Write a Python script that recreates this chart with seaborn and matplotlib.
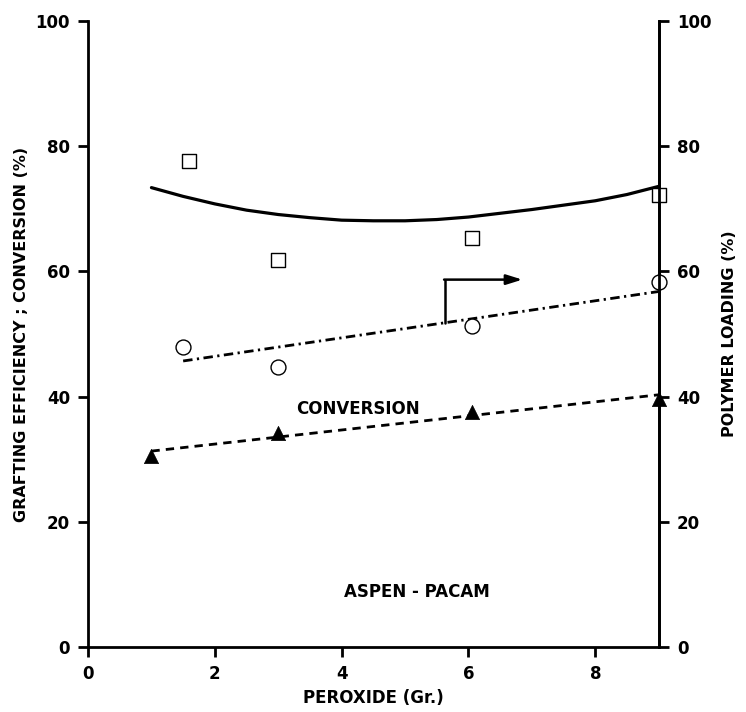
import matplotlib
matplotlib.use("Agg")
import matplotlib.pyplot as plt
import seaborn as sns
import pandas as pd

# ---- data ----
sq_x = [1.6, 3.0, 6.05, 9.0]          # grafting efficiency (open squares)
sq_y = [77.6, 61.9, 65.4, 72.2]
ci_x = [1.5, 3.0, 6.05, 9.0]          # polymer loading (open circles)
ci_y = [47.9, 44.7, 51.3, 58.3]
tr_x = [1.0, 3.0, 6.05, 9.0]          # conversion (filled triangles)
tr_y = [30.5, 34.2, 37.6, 39.7]

fit_ge_x = [1.0, 1.5, 2.0, 2.5, 3.0, 3.5, 4.0, 4.5, 5.0, 5.5, 6.0, 6.5, 7.0, 7.5, 8.0, 8.5, 9.0]
fit_ge_y = [73.4, 72.0, 70.8, 69.8, 69.1, 68.6, 68.2, 68.1, 68.1, 68.3, 68.7, 69.3, 69.9, 70.6, 71.3, 72.3, 73.6]
fit_pl_x = [1.5, 9.0]
fit_pl_y = [45.7, 56.8]
fit_cv_x = [1.0, 9.0]
fit_cv_y = [31.3, 40.3]

x_ticks = [0, 2, 4, 6, 8]
y_ticks = [0, 20, 40, 60, 80, 100]

# arrow pointing to right axis
arrow_x0, arrow_y0 = 5.63, 51.8
arrow_y1 = 58.7
arrow_x1 = 6.85

sns.set_theme(style="ticks")
plt.rcParams['font.family'] = ['DejaVu Sans']
plt.rcParams['font.weight'] = 'bold'
plt.rcParams['text.color'] = 'black'
plt.rcParams['axes.labelcolor'] = 'black'
plt.rcParams['xtick.color'] = 'black'
plt.rcParams['ytick.color'] = 'black'

fig = plt.figure(figsize=(7.46, 7.12), dpi=100)
ax = fig.add_axes([0.118, 0.0913, 0.765, 0.879])

df_sq = pd.DataFrame({'x': sq_x, 'y': sq_y})
df_ci = pd.DataFrame({'x': ci_x, 'y': ci_y})
df_tr = pd.DataFrame({'x': tr_x, 'y': tr_y})

sns.lineplot(x=fit_ge_x, y=fit_ge_y, ax=ax, color='black', lw=2.3, sort=False)
sns.lineplot(x=fit_pl_x, y=fit_pl_y, ax=ax, color='black', lw=2.0)
ax.lines[-1].set_linestyle((0, (3.4, 1.6, 0.8, 1.6)))
sns.lineplot(x=fit_cv_x, y=fit_cv_y, ax=ax, color='black', lw=2.0)
ax.lines[-1].set_linestyle((0, (3, 2.2)))

sns.scatterplot(data=df_sq, x='x', y='y', ax=ax, marker='s', s=105,
                facecolor='white', edgecolor='black', linewidth=1.0, zorder=5, clip_on=False)
sns.scatterplot(data=df_ci, x='x', y='y', ax=ax, marker='o', s=115,
                facecolor='white', edgecolor='black', linewidth=1.0, zorder=5, clip_on=False)
sns.scatterplot(data=df_tr, x='x', y='y', ax=ax, marker='^', s=105,
                color='black', edgecolor='black', linewidth=0.5, zorder=5, clip_on=False)

# arrow
ax.plot([arrow_x0, arrow_x0], [arrow_y0, arrow_y1], color='black', lw=1.8)
ax.annotate('', xy=(arrow_x1, arrow_y1), xytext=(arrow_x0 - 0.015, arrow_y1),
            arrowprops=dict(arrowstyle='-|>,head_length=0.8,head_width=0.25',
                            color='black', lw=1.8, shrinkA=0, shrinkB=0))

ax.text(4.26, 38.1, 'CONVERSION', ha='center', va='center', fontsize=12, fontweight='bold')
ax.text(5.18, 8.8, 'ASPEN - PACAM', ha='center', va='center', fontsize=12, fontweight='bold')

ax.set_xlim(0, 9.0)
ax.set_ylim(0, 100)
ax.set_xticks(x_ticks)
ax.set_yticks(y_ticks)
ax.set_xlabel('PEROXIDE (Gr.)', fontsize=12, fontweight='bold', labelpad=4)
ax.set_ylabel('GRAFTING EFFICIENCY ; CONVERSION (%)', fontsize=11.5, fontweight='bold', labelpad=5)

for side in ['left', 'bottom', 'right']:
    ax.spines[side].set_visible(True)
    ax.spines[side].set_linewidth(2.0)
    ax.spines[side].set_color('black')
ax.spines['top'].set_visible(False)
ax.tick_params(axis='both', direction='out', length=7, width=2.0, labelsize=12, pad=6, colors='black')

ax2 = ax.twinx()
ax2.set_ylim(0, 100)
ax2.set_yticks(y_ticks)
ax2.spines['top'].set_visible(False)
ax2.spines['left'].set_visible(False)
ax2.spines['bottom'].set_visible(False)
ax2.spines['right'].set_linewidth(2.0)
ax2.spines['right'].set_color('black')
ax2.tick_params(axis='y', direction='out', length=7, width=2.0, labelsize=12, pad=6, colors='black')
ax2.set_ylabel('POLYMER LOADING (%)', fontsize=11.5, fontweight='bold', labelpad=8)

for lab in ax.get_xticklabels() + ax.get_yticklabels() + ax2.get_yticklabels():
    lab.set_fontweight('bold')

fig.savefig('out.png', dpi=100, facecolor='white')
